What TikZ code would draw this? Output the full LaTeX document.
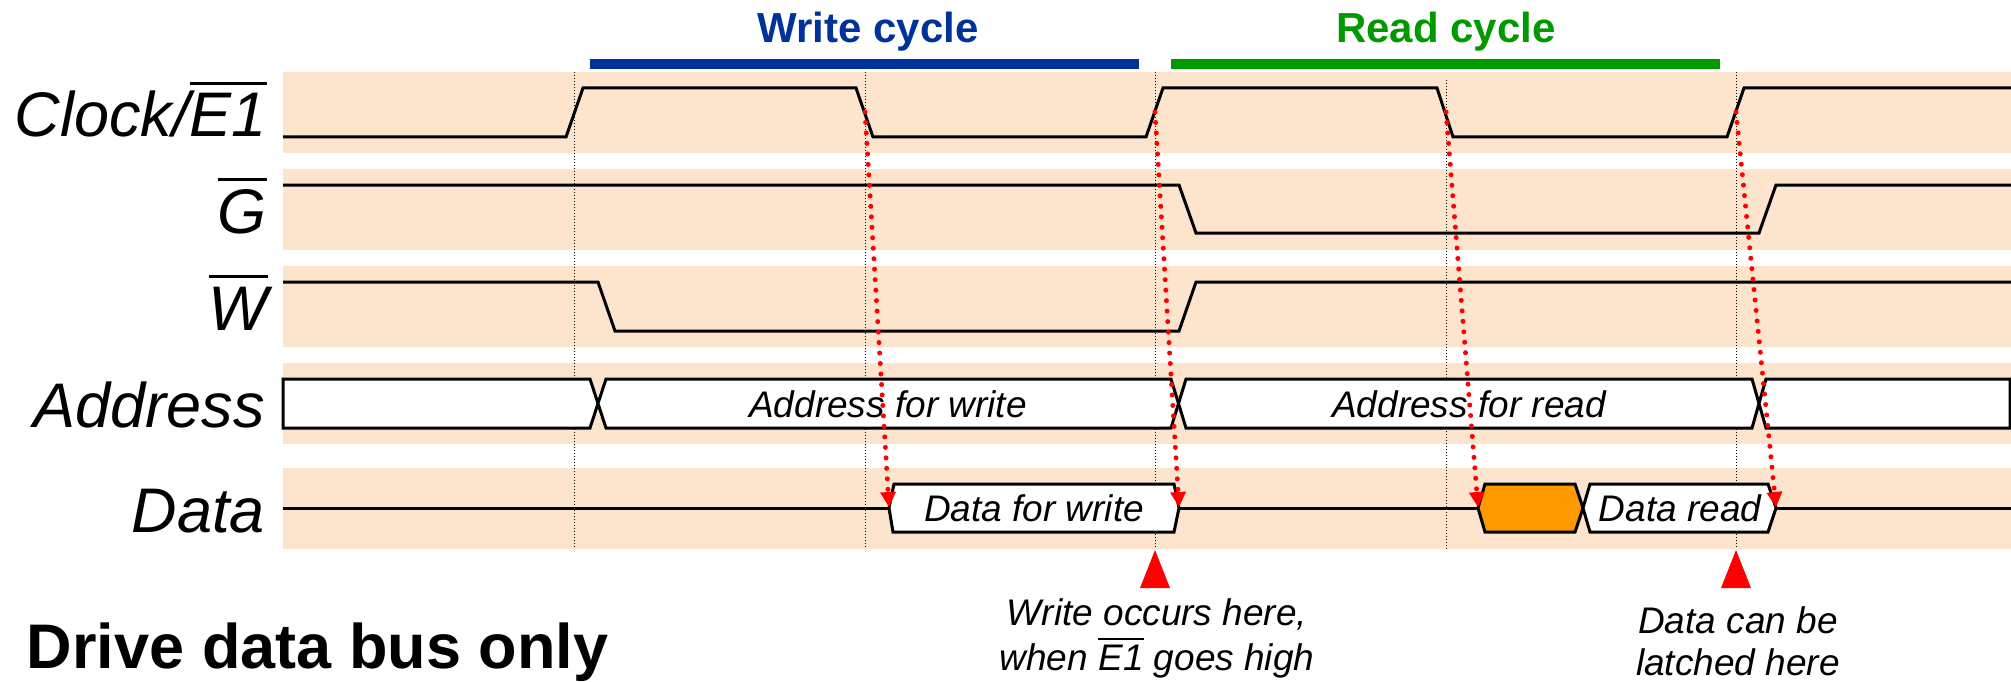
\documentclass[tikz,border=0pt]{standalone}
\usepackage{fontspec}
\setmainfont{Liberation Sans}
\usetikzlibrary{arrows.meta,positioning}
\definecolor{bandfill}{RGB}{253,228,204}
\definecolor{wblue}{RGB}{0,51,153}
\definecolor{rgreen}{RGB}{0,153,0}
\definecolor{busorange}{RGB}{255,153,0}
\newcommand{\ovl}[1]{\vbox{\hrule height .05em\kern .13em\hbox{#1}}}
\tikzset{
  band/.style = {fill=bandfill, draw=none},
  sig/.style = {line width=3pt, line join=miter},
  bus/.style = {sig, fill=white},
  guide/.style = {line width=1pt, dash pattern=on 1pt off 2pt},
  latch/.style = {red, line width=5pt, line cap=round, dash pattern=on 0pt off 10.5pt,
                  -{Triangle[length=15pt,width=16pt,line width=0pt]}},
  siglabel/.style = {font=\fontsize{63}{70}\selectfont\itshape, anchor=base east},
  bustext/.style = {font=\fontsize{37}{42}\selectfont\itshape, anchor=base},
  note/.style = {font=\fontsize{37}{45}\selectfont\itshape, anchor=base},
  cyclelabel/.style = {font=\fontsize{42}{48}\selectfont\bfseries, anchor=base}
}

\begin{document}
\begin{tikzpicture}[x=1pt, y=-1pt,
    every node/.style={inner sep=0pt, outer sep=0pt}
    ]
\useasboundingbox (0,0) rectangle (2011,682);

% background bands
\foreach \top/\bot in {72/153,169/250,266/347,363/444,468/549}
  \fill[band] (283,\top) rectangle (2011,\bot);
\foreach \x/\y in {574/72,865/72,1155/72,1446/80,1736/72}
  \draw[guide] (\x,\y) -- (\x,549);

% cycles
\node[cyclelabel, text=wblue] (wc) at (868,43) {Write cycle};
\fill[wblue] (590,59) rectangle (1139,69);
\node[cyclelabel, text=rgreen] (rc) at (1446,43) {Read cycle};
\fill[rgreen] (1171,59) rectangle (1720,69);

% signal names
\node[siglabel] (clk) at (267,137) {Clock/\ovl{E1}};
\node[siglabel] (g) at (267,233) {\ovl{G}};
\node[siglabel] (w) at (268,330) {\ovl{W}};
\node[siglabel] (addr) at (265,427) {Address};
\node[siglabel] (data) at (265,532) {Data};

% waveforms
\draw[sig] (283,137) -- (566,137) -- (583,88) -- (856,88) -- (873,137) -- (1146,137)
  -- (1163,88) -- (1437,88) -- (1453,137) -- (1727,137) -- (1744,88) -- (2011,88);
\draw[sig] (283,185) -- (1179,185) -- (1196,233) -- (1759,233) -- (1776,185) -- (2011,185);
\draw[sig] (283,282) -- (598,282) -- (615,331) -- (1179,331) -- (1196,282) -- (2011,282);

\draw[bus] (283,379) -- (590,379) -- (598,403.5) -- (590,428) -- (283,428) -- cycle;
\draw[bus] (598,403.5) -- (606,379) -- (1171,379) -- (1178.5,403.5) -- (1171,428) -- (606,428) -- cycle;
\node[bustext] (aw) at (888,417) {Address for write};
\draw[bus] (1178.5,403.5) -- (1186,379) -- (1752,379) -- (1759,403.5) -- (1752,428) -- (1186,428) -- cycle;
\node[bustext] (ar) at (1469,417) {Address for read};
\draw[bus] (1759,403.5) -- (1766,379) -- (2010,379) -- (2010,428) -- (1766,428) -- cycle;

\draw[sig] (283,508) -- (889,508);
\draw[bus] (889,508) -- (894,484) -- (1174,484) -- (1179,508) -- (1174,532) -- (893,532) -- cycle;
\node[bustext] (dw) at (1034,521) {Data for write};
\draw[sig] (1179,508) -- (1478,508);
\draw[bus, fill=busorange] (1478,508) -- (1485,484) -- (1575,484) -- (1583,508) -- (1575,532) -- (1485,532) -- cycle;
\draw[bus] (1583,508) -- (1590,484) -- (1768,484) -- (1776,508) -- (1768,532) -- (1590,532) -- cycle;
\node[bustext] (dr) at (1680,521) {Data read};
\draw[sig] (1776,508) -- (2011,508);

% clock edges to data
\coordinate (clkf1) at (865,112);
\coordinate (clkr2) at (1155,112);
\coordinate (clkf2) at (1446,112);
\coordinate (clkr3) at (1736,112);
\coordinate (dws) at (889,507);
\coordinate (dwe) at (1179,507);
\coordinate (drs) at (1478,507);
\coordinate (dre) at (1776,507);
\draw[latch] (clkf1) -- (dws);
\draw[latch] (clkr2) -- (dwe);
\draw[latch] (clkf2) -- (drs);
\draw[latch] (clkr3) -- (dre);

% markers and notes
\coordinate (wr) at (1155,550);
\coordinate (lt) at (1736,550);
\fill[red] (wr) -- ++(15,38) -- ++(-30,0) -- cycle;
\fill[red] (lt) -- ++(15,38) -- ++(-30,0) -- cycle;
\node[note] (wn1) at (1157,625) {Write occurs here,};
\node[note] (wn2) at (1157,670) {when \ovl{E1} goes high};
\node[note] (ln1) at (1738,633) {Data can be};
\node[note] (ln2) at (1738,675) {latched here};

\node[font=\fontsize{63}{70}\selectfont\bfseries, anchor=base west] (mode) at (27,668) {Drive data bus only};

\end{tikzpicture}
\end{document}
